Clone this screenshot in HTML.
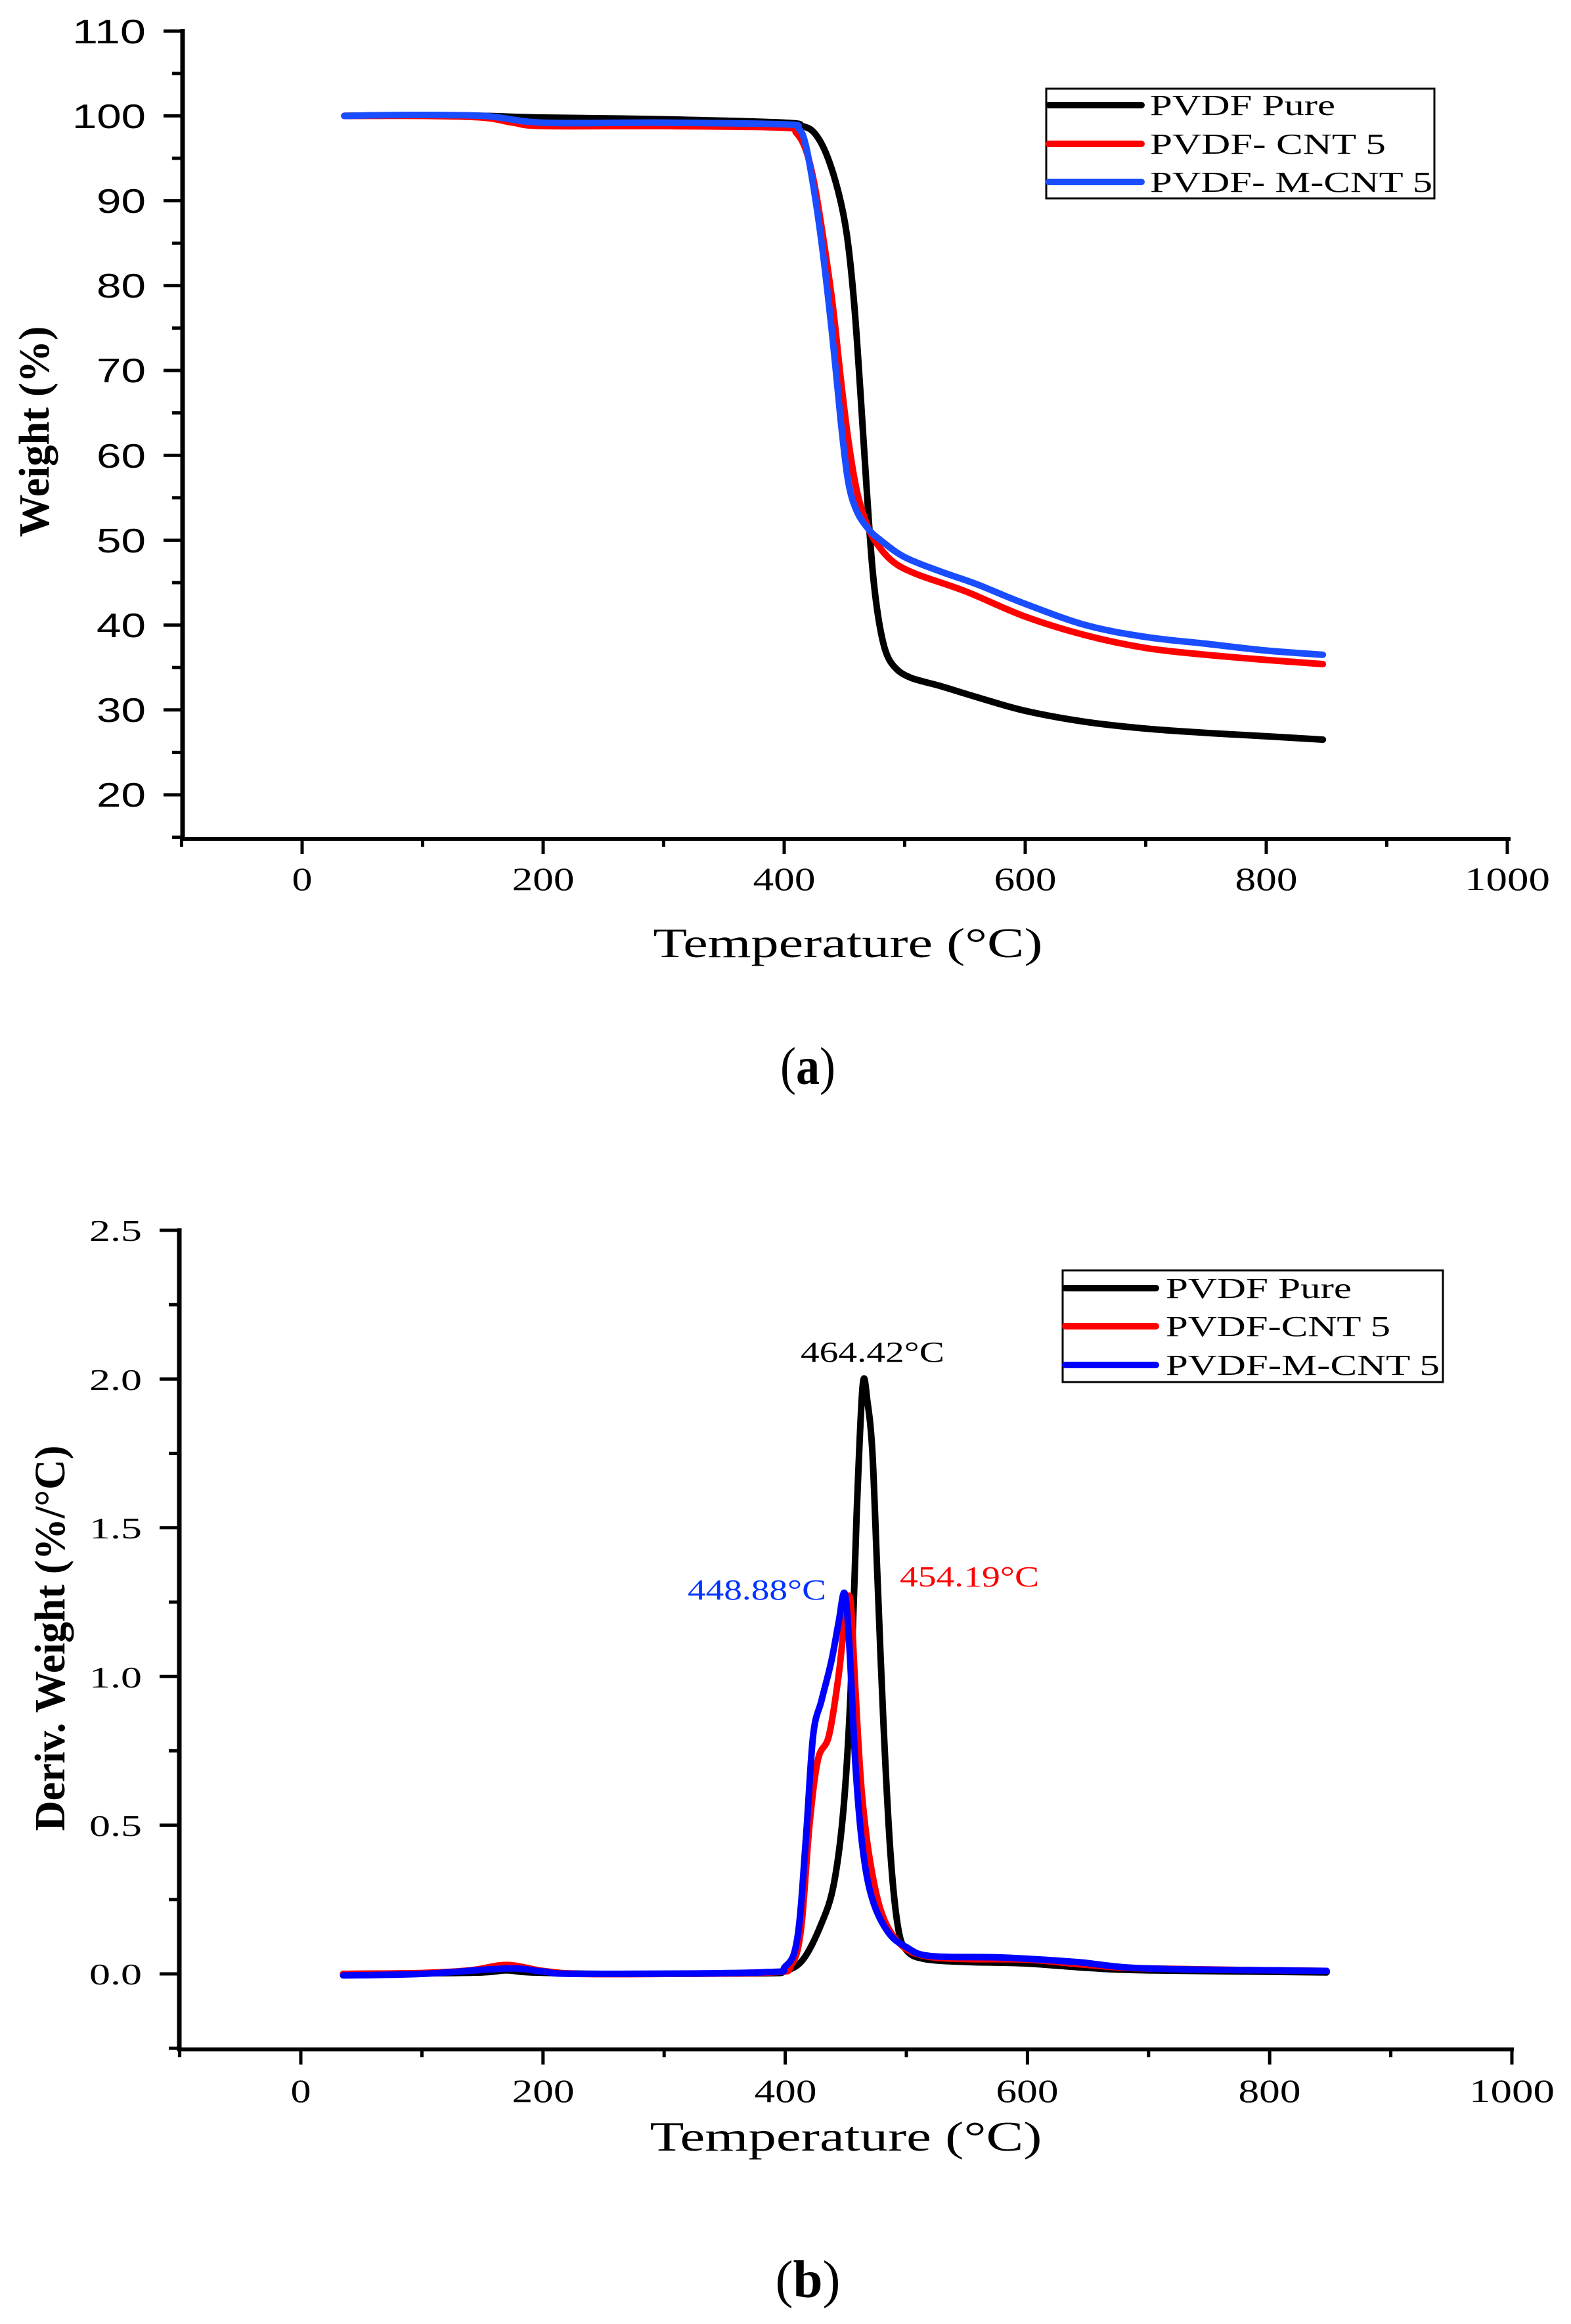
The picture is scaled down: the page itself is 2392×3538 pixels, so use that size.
<!DOCTYPE html>
<html><head><meta charset="utf-8"><style>
html,body{margin:0;padding:0;background:#fff;}
svg{display:block;}
text{font-family:"Liberation Serif",serif;}
</style></head><body>
<svg id="s" width="2392" height="3538" viewBox="0 0 2392 3538" xmlns="http://www.w3.org/2000/svg">
<rect width="2392" height="3538" fill="#fff"/>
<g id="g"></g>

<!-- Chart a texts -->
<g font-size="50" fill="#000">
<text x="460" y="1355" text-anchor="middle" textLength="31" lengthAdjust="spacingAndGlyphs">0</text>
<text x="827" y="1355" text-anchor="middle" textLength="95" lengthAdjust="spacingAndGlyphs">200</text>
<text x="1194" y="1355" text-anchor="middle" textLength="95" lengthAdjust="spacingAndGlyphs">400</text>
<text x="1561" y="1355" text-anchor="middle" textLength="95" lengthAdjust="spacingAndGlyphs">600</text>
<text x="1928" y="1355" text-anchor="middle" textLength="95" lengthAdjust="spacingAndGlyphs">800</text>
<text x="2295" y="1355" text-anchor="middle" textLength="130" lengthAdjust="spacingAndGlyphs">1000</text>
</g>
<g font-size="52" fill="#000" text-anchor="end">
<text x="222" y="66" textLength="112" lengthAdjust="spacingAndGlyphs" style="font-family:'Liberation Sans',sans-serif">110</text>
<text x="222" y="195" textLength="112" lengthAdjust="spacingAndGlyphs" style="font-family:'Liberation Sans',sans-serif">100</text>
<text x="222" y="324" textLength="75" lengthAdjust="spacingAndGlyphs" style="font-family:'Liberation Sans',sans-serif">90</text>
<text x="222" y="453" textLength="75" lengthAdjust="spacingAndGlyphs" style="font-family:'Liberation Sans',sans-serif">80</text>
<text x="222" y="582" textLength="75" lengthAdjust="spacingAndGlyphs" style="font-family:'Liberation Sans',sans-serif">70</text>
<text x="222" y="712" textLength="75" lengthAdjust="spacingAndGlyphs" style="font-family:'Liberation Sans',sans-serif">60</text>
<text x="222" y="841" textLength="75" lengthAdjust="spacingAndGlyphs" style="font-family:'Liberation Sans',sans-serif">50</text>
<text x="222" y="970" textLength="75" lengthAdjust="spacingAndGlyphs" style="font-family:'Liberation Sans',sans-serif">40</text>
<text x="222" y="1099" textLength="75" lengthAdjust="spacingAndGlyphs" style="font-family:'Liberation Sans',sans-serif">30</text>
<text x="222" y="1228" textLength="75" lengthAdjust="spacingAndGlyphs" style="font-family:'Liberation Sans',sans-serif">20</text>
</g>
<text x="1291" y="1457" font-size="63" text-anchor="middle" textLength="593" lengthAdjust="spacingAndGlyphs">Temperature (°C)</text>
<text transform="translate(74,657) rotate(-90)" font-size="66" font-weight="bold" text-anchor="middle" textLength="321" lengthAdjust="spacingAndGlyphs">Weight (%)</text>
<text x="1230" y="1650" font-size="80" text-anchor="middle" textLength="84" lengthAdjust="spacingAndGlyphs">(<tspan font-weight="bold">a</tspan>)</text>
<rect x="1593" y="135" width="591" height="167" fill="none" stroke="#000" stroke-width="3"/>
<g stroke-width="10" stroke-linecap="round">
<line x1="1597" y1="160" x2="1738" y2="160" stroke="#000"/>
<line x1="1597" y1="219" x2="1738" y2="219" stroke="#ff0000"/>
<line x1="1597" y1="277" x2="1738" y2="277" stroke="#1a4dff"/>
</g>
<g font-size="44">
<text x="1751" y="175" textLength="282" lengthAdjust="spacingAndGlyphs">PVDF Pure</text>
<text x="1751" y="234" textLength="359" lengthAdjust="spacingAndGlyphs">PVDF- CNT 5</text>
<text x="1751" y="292" textLength="430" lengthAdjust="spacingAndGlyphs">PVDF- M-CNT 5</text>
</g>

<!-- Chart b texts -->
<g font-size="50" fill="#000">
<text x="458" y="3200" text-anchor="middle" textLength="31" lengthAdjust="spacingAndGlyphs">0</text>
<text x="827" y="3200" text-anchor="middle" textLength="95" lengthAdjust="spacingAndGlyphs">200</text>
<text x="1196" y="3200" text-anchor="middle" textLength="95" lengthAdjust="spacingAndGlyphs">400</text>
<text x="1564" y="3200" text-anchor="middle" textLength="95" lengthAdjust="spacingAndGlyphs">600</text>
<text x="1933" y="3200" text-anchor="middle" textLength="95" lengthAdjust="spacingAndGlyphs">800</text>
<text x="2302" y="3200" text-anchor="middle" textLength="130" lengthAdjust="spacingAndGlyphs">1000</text>
</g>
<g font-size="46" fill="#000" text-anchor="end">
<text x="216" y="1889" textLength="80" lengthAdjust="spacingAndGlyphs">2.5</text>
<text x="216" y="2116" textLength="80" lengthAdjust="spacingAndGlyphs">2.0</text>
<text x="216" y="2342" textLength="80" lengthAdjust="spacingAndGlyphs">1.5</text>
<text x="216" y="2569" textLength="80" lengthAdjust="spacingAndGlyphs">1.0</text>
<text x="216" y="2795" textLength="80" lengthAdjust="spacingAndGlyphs">0.5</text>
<text x="216" y="3021" textLength="80" lengthAdjust="spacingAndGlyphs">0.0</text>
</g>
<text x="1288" y="3274" font-size="63" text-anchor="middle" textLength="597" lengthAdjust="spacingAndGlyphs">Temperature (°C)</text>
<text transform="translate(98,2494) rotate(-90)" font-size="66" font-weight="bold" text-anchor="middle" textLength="587" lengthAdjust="spacingAndGlyphs">Deriv. Weight (%/°C)</text>
<text x="1230" y="3497" font-size="80" text-anchor="middle" textLength="99" lengthAdjust="spacingAndGlyphs">(<tspan font-weight="bold">b</tspan>)</text>
<rect x="1618" y="1934" width="579" height="170" fill="none" stroke="#000" stroke-width="3"/>
<g stroke-width="10" stroke-linecap="round">
<line x1="1622" y1="1961" x2="1760" y2="1961" stroke="#000"/>
<line x1="1622" y1="2019" x2="1760" y2="2019" stroke="#ff0000"/>
<line x1="1622" y1="2078" x2="1760" y2="2078" stroke="#0000ff"/>
</g>
<g font-size="44">
<text x="1775" y="1976" textLength="283" lengthAdjust="spacingAndGlyphs">PVDF Pure</text>
<text x="1775" y="2034" textLength="342" lengthAdjust="spacingAndGlyphs">PVDF-CNT 5</text>
<text x="1775" y="2093" textLength="417" lengthAdjust="spacingAndGlyphs">PVDF-M-CNT 5</text>
</g>
<g font-size="44">
<text x="1219" y="2073" textLength="219" lengthAdjust="spacingAndGlyphs" fill="#000">464.42°C</text>
<text x="1047" y="2435" textLength="211" lengthAdjust="spacingAndGlyphs" fill="#0033ff">448.88°C</text>
<text x="1370" y="2415" textLength="212" lengthAdjust="spacingAndGlyphs" fill="#ff0000">454.19°C</text>
</g>
</svg>
<script>
var NS="http://www.w3.org/2000/svg",g=document.getElementById('g');
function el(t,a){var e=document.createElementNS(NS,t);for(var k in a)e.setAttribute(k,a[k]);g.appendChild(e);return e;}
function path(pts,X,Y,col){
 var p=pts.map(function(q){return [X(q[0]),Y(q[1])];});
 var d="M"+p[0][0].toFixed(1)+","+p[0][1].toFixed(1);
 for(var i=0;i<p.length-1;i++){
  var p0=p[i-1]||p[i],p1=p[i],p2=p[i+1],p3=p[i+2]||p2;
  var c1x=p1[0]+(p2[0]-p0[0])/6,c1y=p1[1]+(p2[1]-p0[1])/6;
  var c2x=p2[0]-(p3[0]-p1[0])/6,c2y=p2[1]-(p3[1]-p1[1])/6;
  d+=" C"+c1x.toFixed(1)+","+c1y.toFixed(1)+" "+c2x.toFixed(1)+","+c2y.toFixed(1)+" "+p2[0].toFixed(1)+","+p2[1].toFixed(1);
 }
 el('path',{d:d,fill:'none',stroke:col,'stroke-width':10,'stroke-linecap':'round','stroke-linejoin':'round'});
}
// Chart a
var XA=function(t){return 460+t*1.835},YA=function(w){return 1210-(w-20)*12.92};
el('line',{x1:278,y1:44,x2:278,y2:1280,stroke:'#000','stroke-width':7});
el('line',{x1:275,y1:1277,x2:2300,y2:1277,stroke:'#000','stroke-width':6});
for(var v=15;v<=110;v+=5){var y=YA(v),maj=(v%10==0);el('line',{x1:maj?249:262,y1:y,x2:278,y2:y,stroke:'#000','stroke-width':5});}
for(var t=-100;t<=1000;t+=100){var x=XA(t),maj=(t%200==0);el('line',{x1:x,y1:1277,x2:x,y2:maj?1300:1289,stroke:'#000','stroke-width':5});}
path([[35,100],[100,100.1],[150,100],[200,99.8],[300,99.6],[400,99.2],[415,98.8],[425,98],[435,95.5],[445,91],[452,86],[458,78],[463,68],[468,57],[473,47],[478,41],[484,37],[492,35],[505,33.8],[530,32.8],[560,31.5],[600,29.9],[650,28.6],[700,27.8],[750,27.3],[800,26.9],[847,26.5]],XA,YA,'#000');
path([[35,100],[100,100],[150,99.8],[175,99.2],[200,98.8],[300,98.8],[400,98.6],[410,98],[418,96],[425,92],[432,86],[440,78],[447,69],[453,62],[460,56],[467,52.5],[475,50],[490,47.5],[510,46],[550,44],[600,41],[650,38.8],[700,37.3],[750,36.5],[800,35.9],[847,35.4]],XA,YA,'#ff0000');
path([[35,100],[80,100.1],[150,100],[200,99.2],[300,99.2],[400,99],[412,98.5],[418,96.5],[425,91],[432,84],[440,74],[447,64],[453,57],[460,53.5],[470,51.3],[480,50],[500,48],[530,46.3],[560,44.8],[600,42.5],[650,40],[700,38.6],[750,37.8],[800,37],[847,36.5]],XA,YA,'#1a4dff');
// Chart b
var XB=function(t){return 458+t*1.844},YB=function(d){return 3005-d*452.8};
el('line',{x1:273,y1:1870,x2:273,y2:3123,stroke:'#000','stroke-width':7});
el('line',{x1:270,y1:3120,x2:2305,y2:3120,stroke:'#000','stroke-width':6});
for(var i=-1;i<=10;i++){var v=i*0.25,y=YB(v),maj=(i%2==0);el('line',{x1:maj?243:257,y1:y,x2:273,y2:y,stroke:'#000','stroke-width':5});}
for(var t=-100;t<=1000;t+=100){var x=XB(t),maj=(t%200==0);el('line',{x1:x,y1:3120,x2:x,y2:maj?3143:3132,stroke:'#000','stroke-width':5});}
path([[35,0],[100,0.002],[150,0.005],[170,0.012],[190,0.005],[250,0],[380,0.002],[400,0.01],[415,0.05],[430,0.17],[440,0.3],[448,0.55],[454,0.95],[459,1.55],[464,1.98],[468,1.92],[472,1.75],[476,1.35],[481,0.85],[487,0.4],[493,0.16],[500,0.08],[515,0.05],[550,0.04],[600,0.035],[650,0.02],[700,0.012],[847,0.005]],XB,YB,'#000');
path([[35,0],[100,0.003],[140,0.012],[170,0.03],[200,0.01],[230,0],[300,0],[390,0.005],[405,0.03],[413,0.15],[420,0.5],[427,0.72],[436,0.8],[444,1.0],[450,1.22],[454,1.25],[458,0.95],[463,0.62],[470,0.38],[480,0.2],[495,0.1],[515,0.06],[550,0.05],[600,0.048],[650,0.03],[700,0.018],[847,0.01]],XB,YB,'#ff0000');
path([[35,-0.005],[100,0],[170,0.018],[200,0.008],[230,0],[380,0.005],[400,0.025],[410,0.12],[417,0.45],[423,0.8],[430,0.92],[438,1.05],[444,1.18],[449,1.28],[453,1.1],[458,0.7],[464,0.42],[472,0.25],[485,0.14],[500,0.09],[520,0.06],[580,0.055],[640,0.04],[700,0.018],[847,0.01]],XB,YB,'#0000ff');
</script>
</body></html>
